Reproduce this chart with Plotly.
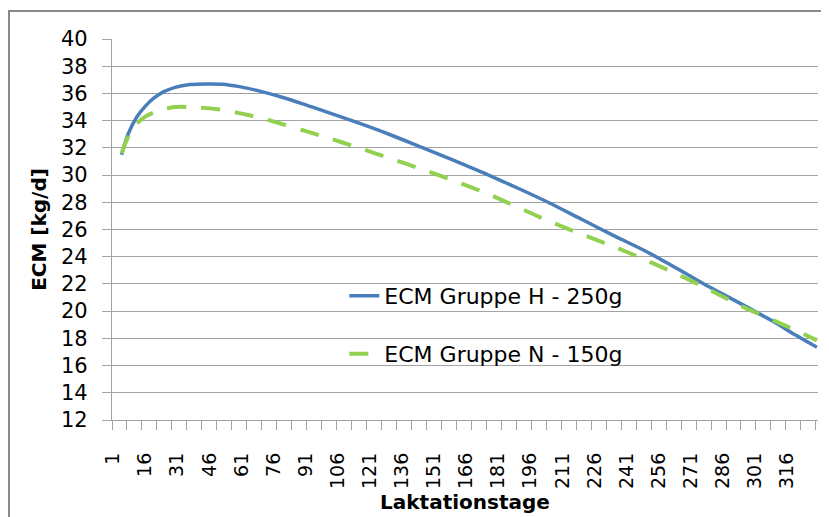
import plotly.graph_objects as go

# Lactation days at which the curves were read
days = [5, 8, 12, 16, 20, 25, 30, 37, 45, 52, 60, 70, 80, 90, 100, 115, 130, 145,
        160, 175, 190, 205, 220, 235, 250, 265, 280, 295, 310, 320, 330]

ecm_h = [31.5, 33.0, 34.25, 35.05, 35.65, 36.15, 36.45, 36.65, 36.7, 36.68, 36.5,
         36.15, 35.72, 35.22, 34.68, 33.87, 33.0, 32.05, 31.1, 30.1, 29.05, 27.95,
         26.75, 25.55, 24.4, 23.1, 21.75, 20.5, 19.2, 18.25, 17.35]

ecm_n = [31.6, 32.8, 33.75, 34.3, 34.6, 34.85, 35.0, 35.0, 34.92, 34.8, 34.55,
         34.2, 33.75, 33.28, 32.8, 32.05, 31.25, 30.45, 29.6, 28.7, 27.65, 26.6,
         25.65, 24.75, 23.75, 22.7, 21.55, 20.35, 19.3, 18.6, 17.85]

series_names = ["ECM Gruppe H - 250g", "ECM Gruppe N - 150g"]
x_labels = list(range(1, 331, 15))          # 1, 16, ..., 316
minor_ticks = [0.5 + 7 * k for k in range(48)]
y_ticks = list(range(12, 41, 2))

FONT = "DejaVu Sans"
GRID = "#a3a3a3"

fig = go.Figure()
fig.add_trace(go.Scatter(
    x=days, y=ecm_h, mode="lines", name=series_names[0],
    line=dict(color="#4A7EBB", width=3.5, shape="spline", smoothing=0.8),
    legend="legend"))
fig.add_trace(go.Scatter(
    x=days, y=ecm_n, mode="lines", name=series_names[1],
    line=dict(color="#92D050", width=4, dash="19px,15px", shape="spline", smoothing=0.8),
    legend="legend2"))
# invisible trace to carry the minor tick axis
fig.add_trace(go.Scatter(x=[0.5, 330.5], y=[12, 12], mode="lines",
                         line=dict(width=0), xaxis="x2", showlegend=False,
                         hoverinfo="skip"))

# page body has an 8px default margin, so the figure is shifted by 8px
fig.update_layout(
    width=829, height=517,
    margin=dict(l=104, r=19, t=31, b=105, autoexpand=False),
    paper_bgcolor="white", plot_bgcolor="white",
    font=dict(family=FONT, size=21, color="black"),
    xaxis=dict(
        range=[0.5, 330.5], tickmode="array", tickvals=x_labels,
        ticktext=[str(v) for v in x_labels], tickangle=-90,
        ticks="outside", ticklen=9, tickcolor="rgba(0,0,0,0)",
        ticklabelstandoff=15, automargin=False,
        showgrid=False, zeroline=False,
        showline=True, linecolor=GRID, linewidth=1.3,
        tickfont=dict(family=FONT, size=19),
        title=dict(text="<b>Laktationstage</b>", font=dict(family=FONT, size=20),
                   standoff=6),
    ),
    xaxis2=dict(
        range=[0.5, 330.5], overlaying="x", anchor="y", side="bottom",
        tickmode="array", tickvals=minor_ticks, showticklabels=False,
        ticks="outside", ticklen=9, tickcolor=GRID, tickwidth=1.3,
        showgrid=False, zeroline=False, showline=False, automargin=False,
    ),
    yaxis=dict(
        range=[12, 40], tickmode="array", tickvals=y_ticks,
        ticks="outside", ticklen=9, tickcolor=GRID, tickwidth=1.3,
        ticklabelstandoff=10, automargin=False,
        showgrid=True, gridcolor=GRID, gridwidth=1.3, zeroline=False,
        showline=True, linecolor=GRID, linewidth=1.3,
        tickfont=dict(family=FONT, size=21),
        title=dict(text="<b>ECM [kg/d]</b>", font=dict(family=FONT, size=20),
                   standoff=8),
    ),
    legend=dict(x=0.3291, y=0.3255, xanchor="left", yanchor="middle",
                bgcolor="rgba(0,0,0,0)", font=dict(family=FONT, size=22)),
    legend2=dict(x=0.3291, y=0.1732, xanchor="left", yanchor="middle",
                 bgcolor="rgba(0,0,0,0)", font=dict(family=FONT, size=22)),
    shapes=[dict(type="rect", xref="paper", yref="paper",
                 x0=(9 - 112) / 706, x1=(833 - 112) / 706,
                 y0=(420 - 540) / 381, y1=(420 - 11) / 381,
                 line=dict(color="#8a8a8a", width=2), layer="below")],
)

fig.write_html("out.html")
